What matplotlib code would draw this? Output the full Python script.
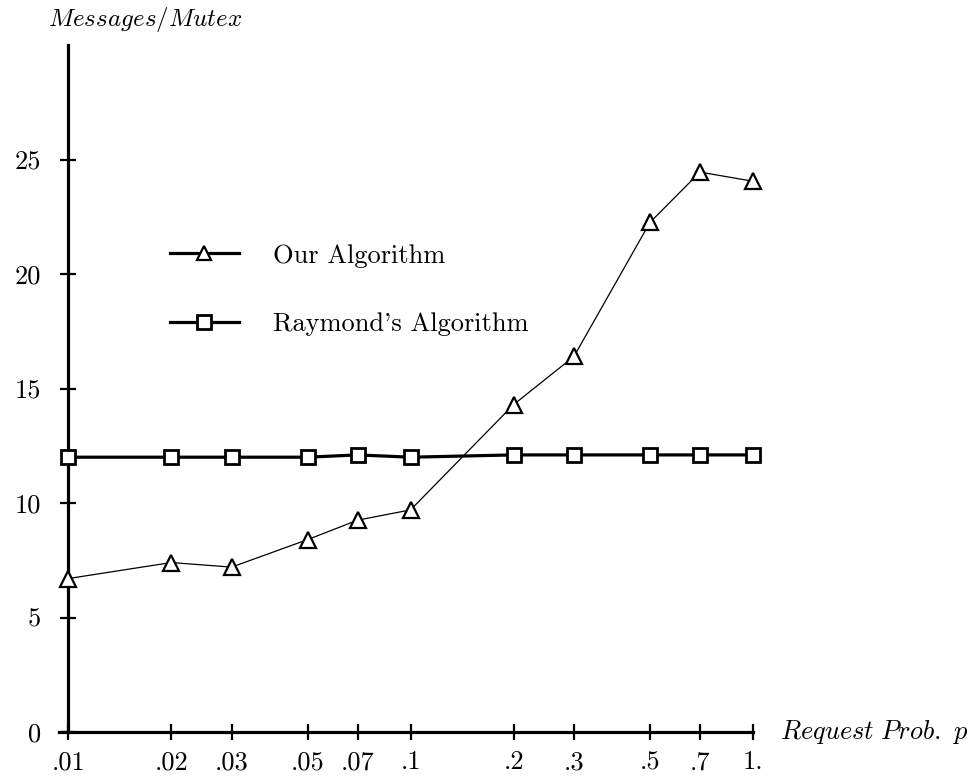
import matplotlib
matplotlib.use("Agg")
import matplotlib.pyplot as plt
from matplotlib.lines import Line2D

# request probability p and messages per mutex
prob = [0.01, 0.02, 0.03, 0.05, 0.07, 0.1, 0.2, 0.3, 0.5, 0.7, 1.0]
tick_labels = [".01", ".02", ".03", ".05", ".07", ".1", ".2", ".3", ".5", ".7", "1."]
ours = [6.7, 7.4, 7.2, 8.4, 9.25, 9.7, 14.3, 16.4, 22.25, 24.45, 24.05]
raymond = [12.0, 12.0, 12.0, 12.0, 12.1, 12.0, 12.1, 12.1, 12.1, 12.1, 12.1]
y_ticks = [0, 5, 10, 15, 20, 25]

plt.rcParams["font.family"] = ["cmr10", "DejaVu Serif"]
plt.rcParams["mathtext.fontset"] = "cm"
plt.rcParams["axes.formatter.use_mathtext"] = True

W, H = 971, 776
fig = plt.figure(figsize=(W / 100, H / 100), dpi=100)
ax = fig.add_axes([59 / W, 44 / H, (753 - 59) / W, (732 - 45) / H])

ax.plot(prob, ours, color="black", lw=0.9, marker="^", ms=11,
        mfc="white", mec="black", mew=1.6, zorder=3, clip_on=False)
ax.plot(prob, raymond, color="black", lw=2.3, marker="s", ms=10,
        mfc="white", mec="black", mew=2.0, zorder=3, clip_on=False)

ax.set_xscale("log")
ax.set_xlim(0.0094, 1.0)
ax.set_ylim(0, 30)
ax.set_xticks(prob)
ax.set_xticklabels(tick_labels)
ax.minorticks_off()
ax.set_yticks(y_ticks)
ax.set_yticklabels([str(v) for v in y_ticks])

for s in ["top", "right"]:
    ax.spines[s].set_visible(False)
ax.spines["left"].set_position(("data", 0.01))
ax.spines["left"].set_linewidth(2.3)
ax.spines["bottom"].set_linewidth(2.3)
ax.spines["left"].set_bounds(0, 30)
ax.patch.set_visible(False)

ax.tick_params(axis="both", direction="inout", length=11, width=1.6,
               labelsize=19)
ax.tick_params(axis="y", pad=14)
ax.tick_params(axis="x", pad=8)

fig.text(48 / W, 1 - 19 / H, r"$\mathit{Messages/Mutex}$", fontsize=18,
         ha="left", va="center")
fig.text(780 / W, 1 - 732 / H, r"$\mathit{Request\ Prob.\ p}$", fontsize=19,
         ha="left", va="center")

handles = [
    Line2D([], [], color="black", lw=2.3, marker="^", ms=10, mfc="white",
           mec="black", mew=1.6),
    Line2D([], [], color="black", lw=2.3, marker="s", ms=10, mfc="white",
           mec="black", mew=2.0),
]
ax.legend(handles, ["Our Algorithm", "Raymond's Algorithm"], frameon=False,
          loc="upper left", bbox_to_anchor=((170 - 59) / (753 - 59), 1 - (244 - 45) / (732 - 45)),
          numpoints=1, handlelength=2.6, handletextpad=1.3, labelspacing=1.7,
          fontsize=19, borderpad=0, borderaxespad=0)

fig.savefig("out.png", dpi=100)
